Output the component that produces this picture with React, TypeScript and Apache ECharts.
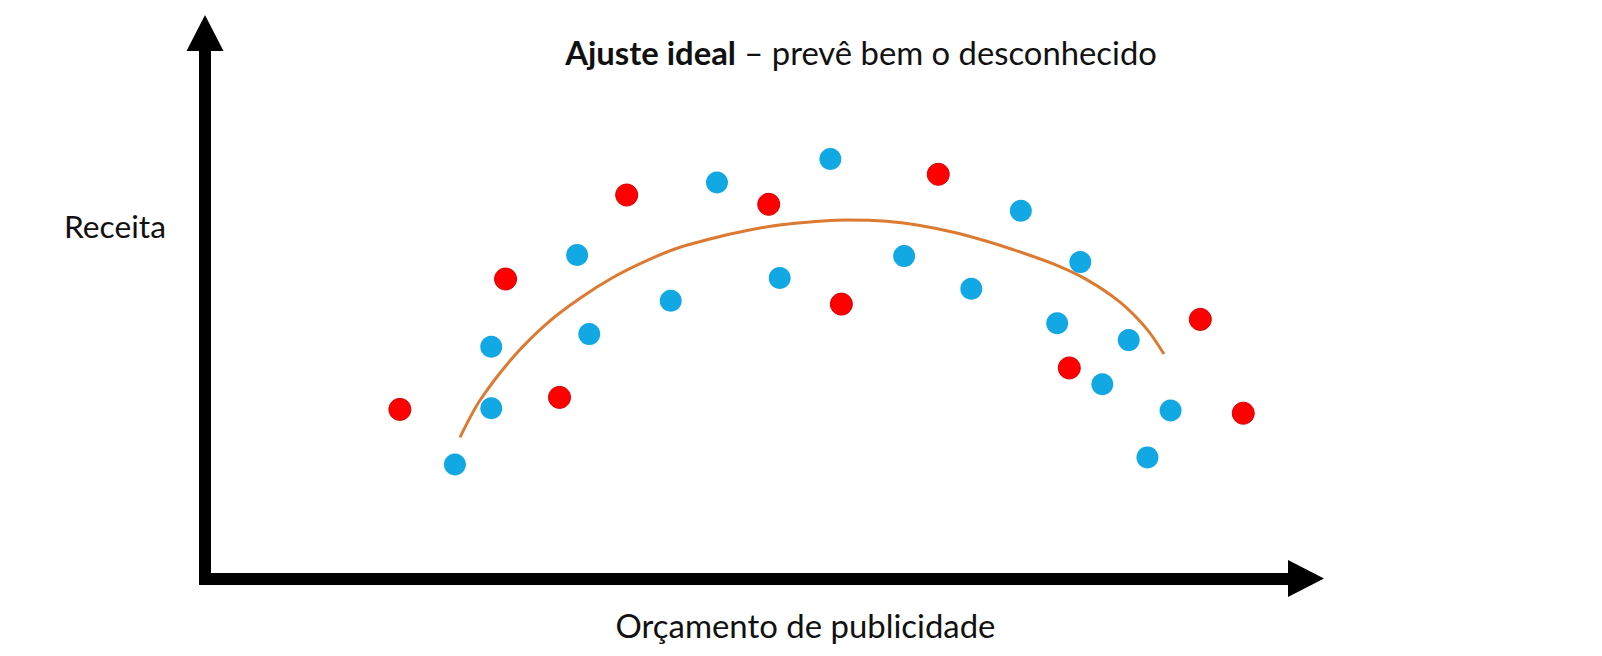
import React, { useEffect, useRef } from "react";
import * as echarts from "echarts";

// Blue points (x = budget, y = revenue), arbitrary 0-100 units
const blueX = [22.7, 26.0, 26.0, 33.8, 34.9, 42.3, 46.5, 52.2, 56.8, 63.5, 69.6, 74.1, 77.4, 79.5, 81.5, 83.9, 85.6, 87.7];
const blueY = [20.9, 31.2, 42.5, 59.3, 44.8, 50.9, 72.6, 55.1, 76.9, 59.1, 53.1, 67.4, 46.8, 58.0, 35.6, 43.7, 22.2, 30.8];

// Red points
const redX = [17.7, 27.3, 32.2, 38.3, 51.2, 57.8, 66.6, 78.5, 90.4, 94.3];
const redY = [31.0, 54.9, 33.2, 70.3, 68.6, 50.3, 74.1, 38.6, 47.5, 30.3];

// Ideal-fit curve
const fitX = [23.16, 24.98, 28.0, 31.04, 34.06, 37.08, 40.12, 43.14, 46.78, 49.8, 52.83, 58.28, 61.92, 64.94, 67.97, 71.0, 74.02, 77.05, 80.08, 83.11, 85.53, 87.1];
const fitY = [25.88, 32.67, 40.6, 46.73, 51.37, 55.22, 58.28, 60.72, 62.69, 64.03, 64.95, 65.72, 65.5, 64.71, 63.48, 61.83, 59.87, 57.67, 54.79, 50.65, 45.76, 41.15];

const titleBold = "Ajuste ideal";
const titleRest = " – prevê bem o desconhecido";
const xLabel = "Orçamento de publicidade";
const yLabel = "Receita";

const FONT = "Lato";

function fitSize(parts: { text: string; weight: string }[], target: number): number {
  const ctx = document.createElement("canvas").getContext("2d");
  if (!ctx) return 30;
  let w = 0;
  for (const p of parts) {
    ctx.font = `${p.weight} 100px ${FONT}`;
    w += ctx.measureText(p.text).width;
  }
  return (100 * target) / w;
}

export default function App() {
  const ref = useRef<HTMLDivElement>(null);

  useEffect(() => {
    if (!ref.current) return;
    const chart = echarts.init(ref.current, null, { renderer: "svg" });

    const titleSize = fitSize(
      [
        { text: titleBold, weight: "bold" },
        { text: titleRest, weight: "normal" },
      ],
      592
    );
    const xSize = fitSize([{ text: xLabel, weight: "normal" }], 380);
    const ySize = fitSize([{ text: yLabel, weight: "normal" }], 102);

    const zip = (a: number[], b: number[]) => a.map((v, i) => [v, b[i]]);

    const axisLine = {
      show: true,
      onZero: false,
      symbol: ["none", "triangle"],
      symbolSize: [37, 36],
      lineStyle: { color: "#000", width: 12, cap: "square" },
    };

    chart.setOption({
      animation: false,
      backgroundColor: "#fff",
      grid: { left: 205, right: 296, top: 33, bottom: 77.5 },
      xAxis: {
        type: "value",
        min: 0,
        max: 100,
        axisLine,
        axisTick: { show: false },
        axisLabel: { show: false },
        splitLine: { show: false },
      },
      yAxis: {
        type: "value",
        min: 0,
        max: 100,
        axisLine,
        axisTick: { show: false },
        axisLabel: { show: false },
        splitLine: { show: false },
      },
      series: [
        {
          type: "scatter",
          data: zip(blueX, blueY),
          symbolSize: 22,
          itemStyle: { color: "#12A8E4", opacity: 1 },
          z: 2,
        },
        {
          type: "scatter",
          data: zip(redX, redY),
          symbolSize: 22,
          itemStyle: { color: "#FF0000", borderColor: "#D80000", borderWidth: 1, opacity: 1 },
          z: 2,
        },
        {
          type: "line",
          data: zip(fitX, fitY),
          smooth: 0.3,
          showSymbol: false,
          symbol: "none",
          lineStyle: { color: "#DC7A32", width: 3 },
          z: 3,
        },
      ],
      graphic: [
        {
          type: "text",
          x: 861,
          y: 63.3 - 0.33 * titleSize,
          style: {
            text: `{b|${titleBold}}{r|${titleRest}}`,
            textAlign: "center",
            verticalAlign: "middle",
            fill: "#111",
            rich: {
              b: { fontFamily: FONT, fontWeight: "bold", fontSize: titleSize, fill: "#111" },
              r: { fontFamily: FONT, fontWeight: "normal", fontSize: titleSize, fill: "#111" },
            },
          },
        },
        {
          type: "text",
          x: 64,
          y: 236.7 - 0.33 * ySize,
          style: {
            text: yLabel,
            textAlign: "left",
            verticalAlign: "middle",
            fontFamily: FONT,
            fontSize: ySize,
            fill: "#111",
          },
        },
        {
          type: "text",
          x: 805.5,
          y: 636.7 - 0.33 * xSize,
          style: {
            text: xLabel,
            textAlign: "center",
            verticalAlign: "middle",
            fontFamily: FONT,
            fontSize: xSize,
            fill: "#111",
          },
        },
      ],
    });

    return () => chart.dispose();
  }, []);

  return (
    <div
      ref={ref}
      style={{ position: "fixed", left: 0, top: 0, width: 1602, height: 656, background: "#fff" }}
    />
  );
}
